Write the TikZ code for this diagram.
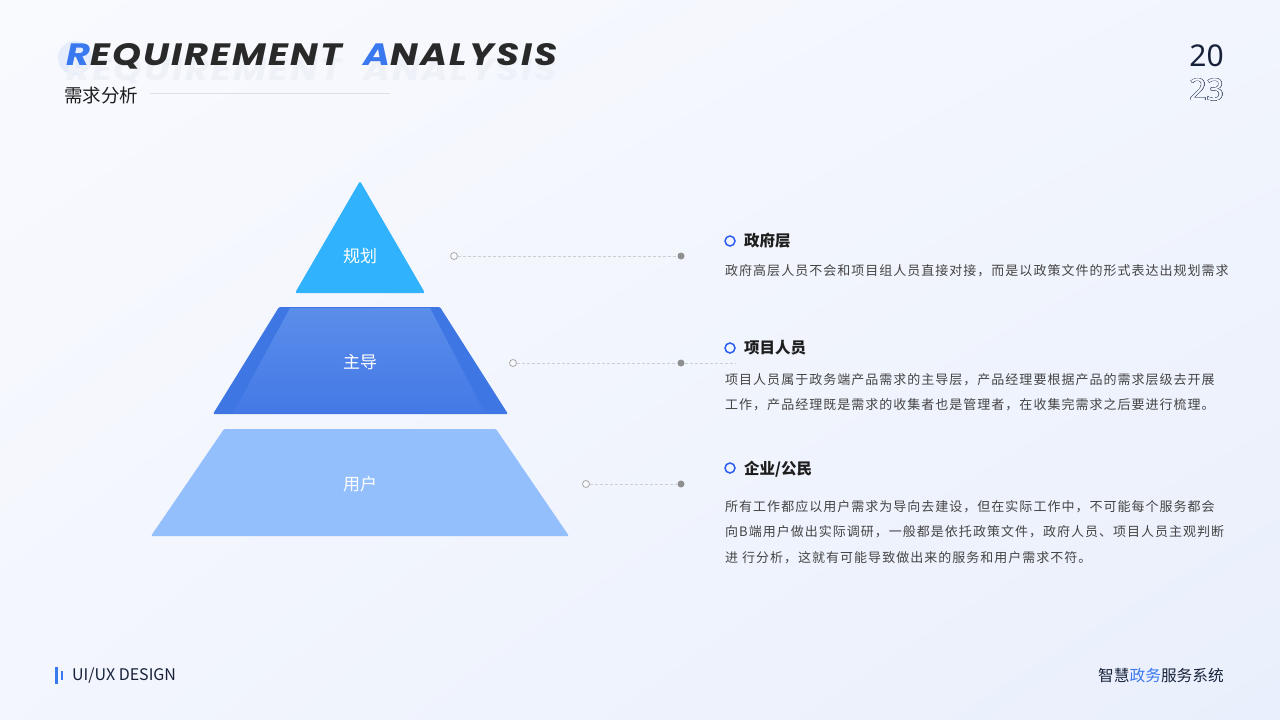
\documentclass[tikz,border=0pt]{standalone}
\usepackage{fontspec}
\usepackage{contour}
\usetikzlibrary{shadings}
\contournumber{32}
\setmainfont{Noto Sans CJK SC}
\newfontfamily\cjk{Noto Sans CJK SC}
\newfontfamily\cjkdesc{Noto Sans CJK SC}[LetterSpace=7.8]
\newfontfamily\titlefont{Poppins}[LetterSpace=6]
\newfontfamily\numfont{Noto Sans}
\definecolor{bgA}{HTML}{F9FAFE}
\definecolor{bgB}{HTML}{E9EFFC}
\definecolor{topc}{HTML}{31B2FD}
\definecolor{midout}{HTML}{3E76E4}
\definecolor{midinA}{HTML}{5B8DEA}
\definecolor{midinB}{HTML}{4479E6}
\definecolor{botc}{HTML}{93C0FC}
\definecolor{ringc}{HTML}{2D5CF0}
\definecolor{headc}{HTML}{1E1E1E}
\definecolor{descc}{HTML}{444444}
\definecolor{dotc}{HTML}{A8A8A8}
\definecolor{dashc}{HTML}{CDCDD2}
\definecolor{titleblue}{HTML}{3A78F0}
\definecolor{navy}{HTML}{17223A}
\definecolor{slate}{HTML}{4C5B78}
\definecolor{ruleC}{HTML}{DCDFE8}
\definecolor{reflC}{HTML}{EEF1F7}
\tikzset{
  lvl/.style={text=white,font=\cjk\fontsize{17}{17}\selectfont},
  head/.style={anchor=west,inner sep=0pt,text=headc,font=\cjk\bfseries\fontsize{15.5}{15.5}\selectfont},
  desc/.style={anchor=west,inner sep=0pt,text=descc,font=\cjkdesc\fontsize{13}{13}\selectfont},
  ring/.style={circle,draw=ringc,line width=1.5pt,minimum size=10pt,inner sep=0pt},
  opendot/.style={circle,draw=dotc,line width=0.8pt,fill=bgA,minimum size=7pt,inner sep=0pt},
  fulldot/.style={circle,fill=dotc!85!black,minimum size=7pt,inner sep=0pt},
  leader/.style={draw=dashc,line width=0.8pt,dash pattern=on 3pt off 2pt},
  ttl/.style={anchor=west,inner sep=0pt,font=\titlefont\bfseries\itshape\fontsize{30}{30}\selectfont}
}
\begin{document}
\begin{tikzpicture}[x=1pt,y=-1pt]
\useasboundingbox (0,0) rectangle (1280,720);
\shade[upper left=bgA,lower left=bgA!60!bgB,upper right=bgA!55!bgB,lower right=bgB] (0,0) rectangle (1280,720);

% header
\fill[titleblue!13] (75,58) circle (17);
\node[ttl,text=reflC] (refl) at (66,71) {\resizebox{491pt}{22pt}{REQUIREMENT\ \ ANALYSIS}};
\node[ttl,text=headc!95!white] (title) at (66,56) {\resizebox{491pt}{22pt}{\textcolor{titleblue}{R}EQUIREMENT\ \ \textcolor{titleblue}{A}NALYSIS}};
\node[anchor=west,inner sep=0pt,text=headc,font=\cjk\fontsize{18.5}{18.5}\selectfont] (sub) at (64,95) {需求分析};
\coordinate (r1) at (150,93);
\coordinate (r2) at (390,93);
\draw[ruleC,line width=0.8pt] (r1) -- (r2);

\node[anchor=east,inner sep=0pt,text=navy,font=\numfont\bfseries\fontsize{30}{30}\selectfont] (y1) at (1224,56) {20};
\node[anchor=east,inner sep=0pt,font=\numfont\fontsize{30}{30}\selectfont] (y2) at (1224,90) {\contourlength{0.4pt}\contour{slate}{\textcolor{bgA!70!bgB}{23}}};

% pyramid
\fill[topc,rounded corners=1.5pt] (360,181) -- (425,293) -- (295,293) -- cycle;
\fill[midout,rounded corners=1.2pt] (279,307) -- (440,307) -- (508,414) -- (213,414) -- cycle;
\shade[top color=midinA,bottom color=midinB] (290,308) -- (430,308) -- (485,413) -- (233,413) -- cycle;
\fill[botc,rounded corners=1.2pt] (224,429) -- (496,429) -- (569,536) -- (151,536) -- cycle;
\node[lvl] (L1) at (360,256) {规划};
\node[lvl] (L2) at (360,362) {主导};
\node[lvl] (L3) at (360,484) {用户};

% leaders
\node[opendot] (o1) at (454,256) {};
\node[fulldot] (f1) at (681,256) {};
\node[opendot] (o2) at (513,363) {};
\node[fulldot] (f2) at (681,363) {};
\coordinate (e2) at (735,363);
\node[opendot] (o3) at (586,484) {};
\node[fulldot] (f3) at (681,484) {};
\draw[leader] (o1) -- (f1);
\draw[leader] (o2) -- (f2);
\draw[leader] (f2) -- (e2);
\draw[leader] (o3) -- (f3);

% right texts
\node[ring] (c1) at (730,241) {};
\node[head] (h1) at (744,241) {政府层};
\node[desc] (d1) at (725,271) {政府高层人员不会和项目组人员直接对接，而是以政策文件的形式表达出规划需求};

\node[ring] (c2) at (730,348) {};
\node[head] (h2) at (744,348) {项目人员};
\node[desc] (d2a) at (725,380) {项目人员属于政务端产品需求的主导层，产品经理要根据产品的需求层级去开展};
\node[desc] (d2b) at (725,405) {工作，产品经理既是需求的收集者也是管理者，在收集完需求之后要进行梳理。};

\node[ring] (c3) at (730,468) {};
\node[head] (h3) at (744,469) {企业/公民};
\node[desc] (d3a) at (725,507) {所有工作都应以用户需求为导向去建设，但在实际工作中，不可能每个服务都会};
\node[desc] (d3b) at (725,532) {向B端用户做出实际调研，一般都是依托政策文件，政府人员、项目人员主观判断};
\node[desc] (d3c) at (725,558) {进 行分析，这就有可能导致做出来的服务和用户需求不符。};

% footer
\fill[titleblue] (55,667) rectangle (58,684);
\fill[titleblue] (61,671) rectangle (63,680);
\node[anchor=west,inner sep=0pt,text=navy,font=\cjk\fontsize{16}{16}\selectfont] (ux) at (72,676) {UI/UX DESIGN};
\node[anchor=east,inner sep=0pt,text=navy,font=\cjk\fontsize{15.7}{15.7}\selectfont] (sys) at (1224,676) {智慧\textcolor{titleblue}{政务}服务系统};
\end{tikzpicture}
\end{document}
